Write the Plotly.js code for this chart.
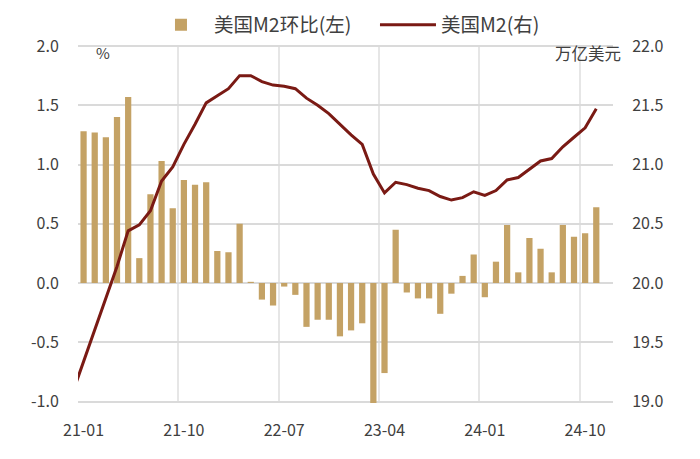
<!DOCTYPE html>
<html>
<head>
<meta charset="utf-8">
<script src="https://cdn.plot.ly/plotly-3.0.1.min.js"></script>
<style>
  html, body { margin: 0; padding: 0; background: #ffffff; }
  #chart { width: 700px; height: 459px; }
</style>
</head>
<body>
<div id="chart"></div>
<script>
// Months; the line starts one month earlier than the bars
const months = [
  '20-12',
  '21-01','21-02','21-03','21-04','21-05','21-06','21-07','21-08','21-09','21-10','21-11','21-12',
  '22-01','22-02','22-03','22-04','22-05','22-06','22-07','22-08','22-09','22-10','22-11','22-12',
  '23-01','23-02','23-03','23-04','23-05','23-06','23-07','23-08','23-09','23-10','23-11','23-12',
  '24-01','24-02','24-03','24-04','24-05','24-06','24-07','24-08','24-09','24-10','24-11'
];
const barMonths = [
  '21-01','21-02','21-03','21-04','21-05','21-06','21-07','21-08','21-09','21-10','21-11','21-12',
  '22-01','22-02','22-03','22-04','22-05','22-06','22-07','22-08','22-09','22-10','22-11','22-12',
  '23-01','23-02','23-03','23-04','23-05','23-06','23-07','23-08','23-09','23-10','23-11','23-12',
  '24-01','24-02','24-03','24-04','24-05','24-06','24-07','24-08','24-09','24-10','24-11'
];
// 美国M2环比 (%), left axis
const m2Mom = [
  1.28, 1.27, 1.23, 1.40, 1.57, 0.21, 0.75, 1.03, 0.63, 0.87, 0.83, 0.85,
  0.27, 0.26, 0.50, 0.01, -0.14, -0.19, -0.03, -0.10, -0.37, -0.31, -0.31, -0.45,
  -0.40, -0.34, -1.02, -0.76, 0.45, -0.08, -0.13, -0.13, -0.26, -0.09, 0.06, 0.24,
  -0.12, 0.18, 0.49, 0.09, 0.38, 0.29, 0.09, 0.49, 0.39, 0.42, 0.64
];
// 美国M2 (万亿美元), right axis
const m2Level = [
  19.07,
  19.34, 19.61, 19.87, 20.14, 20.44, 20.49, 20.61, 20.86, 20.98, 21.17, 21.34, 21.52,
  21.58, 21.64, 21.75, 21.75, 21.70, 21.67, 21.66, 21.64, 21.56, 21.50, 21.43, 21.34,
  21.25, 21.17, 20.92, 20.76, 20.85, 20.83, 20.80, 20.78, 20.73, 20.70, 20.72, 20.77,
  20.74, 20.78, 20.87, 20.89, 20.96, 21.03, 21.05, 21.15, 21.23, 21.31, 21.47
];
const tickLabels = ['21-01','21-10','22-07','23-04','24-01','24-10'];
const leftTicks = [-1.0, -0.5, 0.0, 0.5, 1.0, 1.5, 2.0];
const leftTickText = ['-1.0','-0.5','0.0','0.5','1.0','1.5','2.0'];
const rightTicks = [19.0, 19.5, 20.0, 20.5, 21.0, 21.5, 22.0];
const rightTickText = ['19.0','19.5','20.0','20.5','21.0','21.5','22.0'];
const seriesNames = ['美国M2环比(左)', '美国M2(右)'];

const FONT = '"Noto Sans CJK SC", "Noto Sans", sans-serif';
const TXT = '#404040';
const GRID_V = '#e6e6e6';
const GRID_H = '#dadada';
// small padding so the grid lines at the first and last ticks are kept
const PAD = 0.0126;

const pos = m => months.indexOf(m);
const tickPos = tickLabels.map(pos);
// vertical grid lines sit on the left boundary of each labelled month
const gridPos = tickPos.map(p => p - 0.5);

const traces = [
  {
    type: 'bar',
    name: seriesNames[0],
    x: barMonths.map(pos),
    y: m2Mom,
    yaxis: 'y',
    marker: { color: '#c4a265' },
    width: 0.56,
    hoverinfo: 'skip'
  },
  {
    type: 'scatter',
    mode: 'lines',
    name: seriesNames[1],
    x: months.map(pos),
    y: m2Level,
    yaxis: 'y2',
    line: { color: '#7a1a14', width: 3 },
    hoverinfo: 'skip'
  }
];

const layout = {
  width: 700,
  height: 459,
  margin: { l: 78, r: 87, t: 42, b: 56 },
  paper_bgcolor: '#ffffff',
  plot_bgcolor: 'rgba(0,0,0,0)',
  font: { family: FONT, size: 16, color: TXT },
  showlegend: true,
  legend: {
    orientation: 'h',
    xref: 'container', yref: 'container',
    x: 0.2114, xanchor: 'left',
    y: 0.9455, yanchor: 'middle',
    font: { family: FONT, size: 19.5, color: TXT },
    traceorder: 'normal',
    itemwidth: 56,
    entrywidth: 156,
    entrywidthmode: 'pixels',
    bgcolor: 'rgba(0,0,0,0)'
  },
  xaxis: {
    type: 'linear',
    range: [0.5, 48.5],
    tickmode: 'array',
    tickvals: tickPos,
    ticktext: tickLabels,
    showgrid: false,
    zeroline: false,
    showline: false,
    ticks: 'outside',
    ticklen: 13,
    tickcolor: 'rgba(0,0,0,0)',
    tickfont: { family: FONT, size: 16, color: TXT },
    minor: {
      tickmode: 'array',
      tickvals: gridPos,
      showgrid: true,
      gridcolor: GRID_V,
      gridwidth: 2,
      ticks: ''
    },
    fixedrange: true
  },
  yaxis: {
    range: [-1 - PAD, 2 + PAD],
    tickmode: 'array',
    tickvals: leftTicks,
    ticktext: leftTickText,
    showgrid: true,
    gridcolor: GRID_H,
    gridwidth: 2,
    zeroline: false,
    showline: false,
    ticks: 'outside',
    ticklen: 15,
    tickcolor: 'rgba(0,0,0,0)',
    tickfont: { family: FONT, size: 16, color: TXT },
    fixedrange: true
  },
  yaxis2: {
    overlaying: 'y',
    side: 'right',
    range: [19 - PAD, 22 + PAD],
    tickmode: 'array',
    tickvals: rightTicks,
    ticktext: rightTickText,
    showgrid: false,
    zeroline: false,
    showline: false,
    ticks: 'outside',
    ticklen: 15,
    tickcolor: 'rgba(0,0,0,0)',
    tickfont: { family: FONT, size: 16, color: TXT },
    fixedrange: true
  },
  annotations: [
    {
      text: '%',
      xref: 'paper', yref: 'paper',
      x: 0.047, y: 0.977,
      xanchor: 'center', yanchor: 'middle',
      showarrow: false,
      font: { family: FONT, size: 15, color: TXT }
    },
    {
      text: '万亿美元',
      xref: 'paper', yref: 'paper',
      x: 1.018, y: 0.977,
      xanchor: 'right', yanchor: 'middle',
      showarrow: false,
      font: { family: FONT, size: 16.5, color: TXT }
    }
  ]
};

Plotly.newPlot('chart', traces, layout, { displayModeBar: false, staticPlot: true });
</script>
</body>
</html>
